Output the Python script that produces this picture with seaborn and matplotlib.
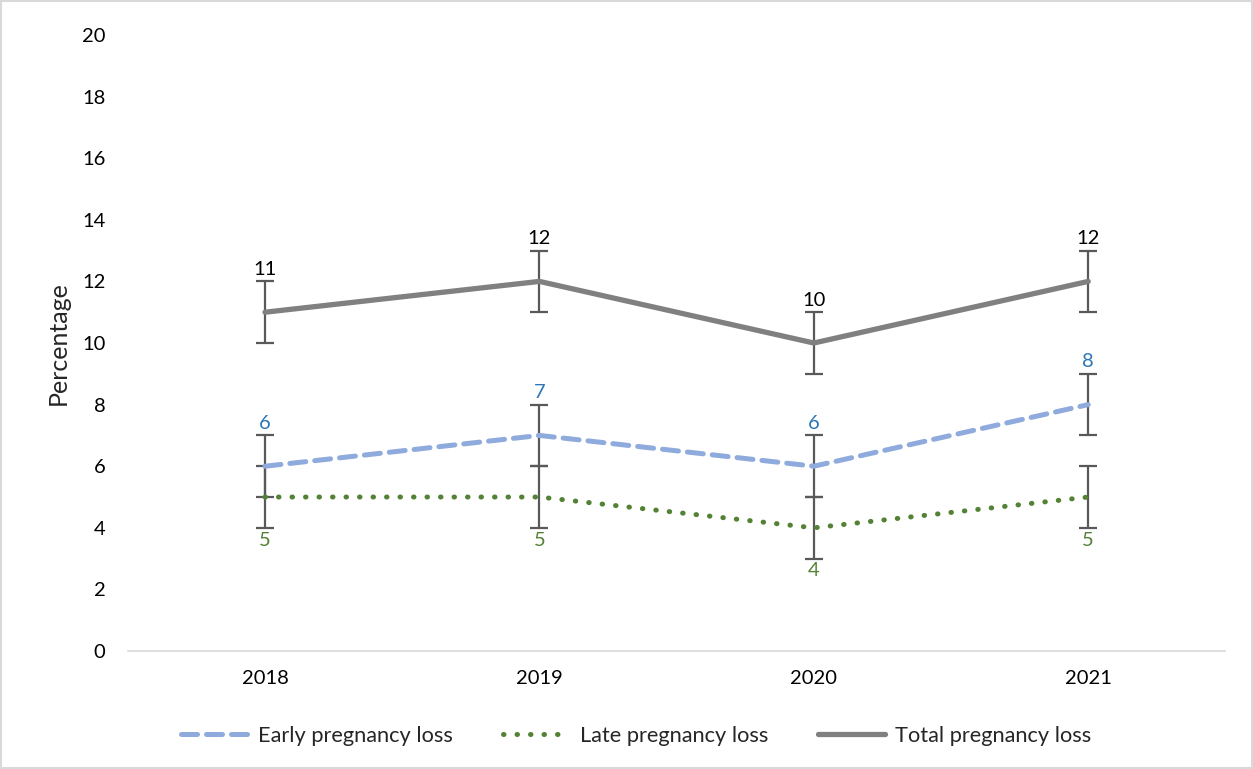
import matplotlib
matplotlib.use("Agg")
import matplotlib.pyplot as plt
from matplotlib.patches import Rectangle
import seaborn as sns
import pandas as pd

years = ["2018", "2019", "2020", "2021"]
early = [6, 7, 6, 8]
late = [5, 5, 4, 5]
total = [11, 12, 10, 12]
err_early = [1, 1, 1, 1]
err_late = [1, 1, 1, 1]
err_total = [1, 1, 1, 1]
series_names = ["Early pregnancy loss", "Late pregnancy loss", "Total pregnancy loss"]
y_ticks = [0, 2, 4, 6, 8, 10, 12, 14, 16, 18, 20]

sns.set_theme(style="white")
plt.rcParams["font.family"] = ["Lato", "DejaVu Sans"]

FS = 14.5
LEG_FS = 15.7

fig = plt.figure(figsize=(12.53, 7.69), dpi=100)
ax = fig.add_axes([0.102, 0.1534, 0.876, 0.8011])

df = pd.DataFrame({
    "Year": years * 3,
    "x": list(range(len(years))) * 3,
    "Value": early + late + total,
    "Err": err_early + err_late + err_total,
    "Series": [s for s in series_names for _ in years],
})

styles = {
    series_names[0]: dict(color="#8FAADC", ls=(0, (3.2, 1.8)), lw=3.6),
    series_names[1]: dict(color="#548235", ls=(0, (0.1, 2.6)), lw=3.6),
    series_names[2]: dict(color="#808080", ls="-", lw=3.8),
}
label_colors = {series_names[0]: "#2E75B6", series_names[1]: "#548235", series_names[2]: "#000000"}

# error bars first so the lines sit on top
for name in series_names:
    sub = df[df["Series"] == name]
    ax.errorbar(sub["x"], sub["Value"], yerr=sub["Err"], fmt="none",
                ecolor="#595959", elinewidth=1.6, capsize=6.5, capthick=1.6, zorder=2)

for name in series_names:
    sub = df[df["Series"] == name]
    st = styles[name]
    sns.lineplot(data=sub, x="x", y="Value", ax=ax, color=st["color"],
                 linewidth=st["lw"], label=name, zorder=3,
                 solid_capstyle="round", dash_capstyle="round")
    ax.lines[-1].set_linestyle(st["ls"])

# value labels
for name in series_names:
    sub = df[df["Series"] == name]
    for x, v, e in zip(sub["x"], sub["Value"], sub["Err"]):
        if name == series_names[1]:
            ax.text(x, v - e - 0.12, f"{v}", ha="center", va="top",
                    color=label_colors[name], fontsize=FS)
        else:
            ax.text(x, v + e + 0.12, f"{v}", ha="center", va="bottom",
                    color=label_colors[name], fontsize=FS)

ax.set_xlim(-0.5, len(years) - 0.5)
ax.set_ylim(0, 20)
ax.set_xticks(range(len(years)))
ax.set_xticklabels(years)
ax.set_yticks(y_ticks)
ax.tick_params(axis="both", labelsize=FS, colors="#000000", length=0)
ax.tick_params(axis="x", pad=14)
ax.tick_params(axis="y", pad=16)
ax.set_xlabel("")
ax.set_ylabel("Percentage", fontsize=18, labelpad=9)

for side in ["top", "right", "left"]:
    ax.spines[side].set_visible(False)
ax.spines["bottom"].set_color("#D9D9D9")
ax.spines["bottom"].set_linewidth(1.2)

leg = ax.legend(loc="upper center", bbox_to_anchor=(0.5 - 0.037, -0.09), ncol=3,
                frameon=False, fontsize=LEG_FS, handlelength=3.07, columnspacing=2.3,
                handletextpad=0.46)
for h, name in zip(leg.get_lines(), series_names):
    h.set_linestyle(styles[name]["ls"])

fig.patches.append(Rectangle((0.001, 0.001), 0.998, 0.998, transform=fig.transFigure,
                             fill=False, edgecolor="#D9D9D9", linewidth=1.5))

fig.savefig("out.png", dpi=100)
